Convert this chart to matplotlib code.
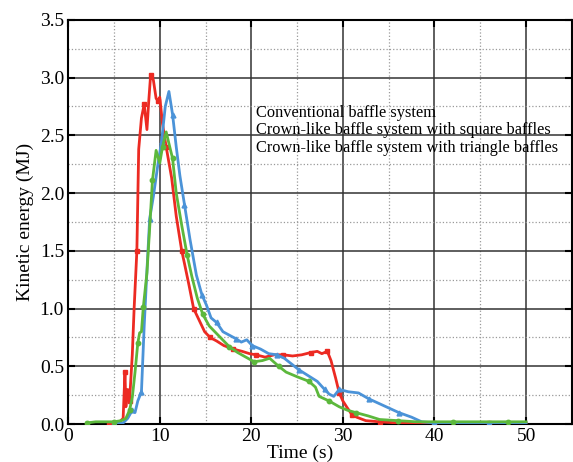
import matplotlib
matplotlib.use('Agg')
import matplotlib.pyplot as plt
from matplotlib.lines import Line2D
from matplotlib.ticker import MultipleLocator

plt.rcParams['font.family'] = ['Liberation Serif', 'DejaVu Serif']

labels = ['Conventional baffle system',
          'Crown-like baffle system with square baffles',
          'Crown-like baffle system with triangle baffles']

# conventional baffles (red)
red_t = [4.5, 5.5, 6.0, 6.2, 6.3, 6.5, 6.7, 7.0, 7.2, 7.5, 7.7, 8.0, 8.3, 8.6, 8.8,
         9.0, 9.3, 9.6, 9.8, 10.0, 10.3, 10.7, 11.3, 11.8, 12.4, 12.7, 13.2, 13.7,
         14.3, 14.9, 15.5, 16.2, 17.0, 18.0, 19.0, 19.8, 20.5, 21.5, 22.5, 23.5,
         24.5, 25.5, 26.5, 27.2, 27.7, 28.3, 28.7, 29.2, 29.6, 30.0, 30.4, 31.0,
         31.5, 32.5, 34.0, 36.0, 38.0, 40.0, 42.0, 44.0, 46.0, 48.0, 50.0]
red_y = [0.0, 0.01, 0.05, 0.45, 0.15, 0.3, 0.2, 0.6, 1.0, 1.5, 2.38, 2.65, 2.77,
         2.55, 2.8, 3.02, 2.98, 2.82, 2.8, 2.83, 2.6, 2.4, 2.13, 1.8, 1.5, 1.39,
         1.2, 1.0, 0.9, 0.8, 0.75, 0.72, 0.68, 0.65, 0.63, 0.61, 0.6, 0.58, 0.6,
         0.6, 0.59, 0.6, 0.62, 0.63, 0.61, 0.63, 0.55, 0.4, 0.27, 0.2, 0.15, 0.08,
         0.06, 0.03, 0.02, 0.01, 0.01, 0.01, 0.01, 0.01, 0.01, 0.01, 0.01]

# square baffles (blue)
blue_t = [5.0, 6.0, 6.5, 7.0, 7.3, 7.6, 8.0, 8.3, 8.6, 8.9, 9.3, 9.8, 10.2, 10.6,
          11.0, 11.4, 11.8, 12.2, 12.7, 13.3, 14.0, 14.6, 15.1, 15.6, 16.2, 16.9,
          17.6, 18.3, 18.9, 19.5, 20.1, 21.0, 21.9, 22.8, 23.6, 24.4, 25.2, 26.2,
          27.2, 28.0, 28.5, 29.0, 29.6, 30.6, 31.7, 32.8, 33.9, 35.0, 36.1, 37.5,
          38.6, 40.0, 42.0, 44.0, 46.0, 48.0, 50.0]
blue_y = [0.01, 0.01, 0.05, 0.12, 0.1, 0.2, 0.28, 0.85, 1.33, 1.78, 1.97, 2.25,
          2.45, 2.75, 2.88, 2.68, 2.4, 2.15, 1.9, 1.6, 1.29, 1.12, 1.03, 0.92,
          0.88, 0.8, 0.77, 0.74, 0.71, 0.73, 0.68, 0.65, 0.61, 0.6, 0.57, 0.52,
          0.47, 0.42, 0.37, 0.3, 0.26, 0.24, 0.3, 0.28, 0.27, 0.22, 0.18, 0.14,
          0.1, 0.06, 0.02, 0.01, 0.01, 0.01, 0.01, 0.01, 0.01]

# triangle baffles (green)
green_t = [2.0, 3.0, 4.0, 5.0, 5.8, 6.3, 6.7, 7.0, 7.3, 7.6, 7.8, 8.0, 8.2, 8.6,
           8.9, 9.2, 9.6, 10.0, 10.3, 10.7, 11.0, 11.4, 11.8, 12.4, 13.0, 13.5,
           14.1, 14.7, 15.4, 16.5, 17.6, 18.5, 19.4, 20.3, 21.2, 22.0, 23.0, 23.8,
           25.0, 26.3, 27.0, 27.4, 28.5, 29.6, 30.5, 31.4, 32.8, 34.0, 36.0, 38.0,
           40.0, 42.0, 44.0, 46.0, 48.0, 50.0]
green_y = [0.01, 0.02, 0.02, 0.02, 0.03, 0.05, 0.12, 0.23, 0.45, 0.7, 0.79, 0.8,
           1.01, 1.31, 1.7, 2.11, 2.37, 2.26, 2.4, 2.53, 2.43, 2.3, 2.0, 1.72,
           1.46, 1.28, 1.09, 0.95, 0.85, 0.76, 0.67, 0.62, 0.58, 0.54, 0.55, 0.57,
           0.5, 0.45, 0.41, 0.37, 0.32, 0.24, 0.2, 0.15, 0.12, 0.1, 0.07, 0.04,
           0.03, 0.02, 0.02, 0.02, 0.02, 0.02, 0.02, 0.02]

fig = plt.figure(figsize=(5.73, 4.62), dpi=100)
ax = fig.add_axes([0.119, 0.082, 0.879, 0.875])

ax.plot(red_t, red_y, color='#ec2a22', lw=2, marker='s', ms=3, markevery=3, zorder=3)
ax.plot(blue_t, blue_y, color='#4b93d8', lw=2, marker='^', ms=3.5, markevery=3, zorder=3)
ax.plot(green_t, green_y, color='#5cb83c', lw=2, marker='o', ms=3.2, markevery=3, zorder=4)

ax.set_xlim(0, 55)
ax.set_ylim(0, 3.5)
ax.xaxis.set_major_locator(MultipleLocator(10))
ax.xaxis.set_minor_locator(MultipleLocator(5))
ax.yaxis.set_major_locator(MultipleLocator(0.5))
ax.yaxis.set_minor_locator(MultipleLocator(0.25))
ax.yaxis.set_major_formatter(plt.FormatStrFormatter('%.1f'))

ax.grid(which='major', color='#333333', lw=1.1, ls='-')
ax.grid(which='minor', color='#999999', lw=0.9, ls=':')
ax.set_axisbelow(True)

ax.tick_params(which='major', direction='in', length=5, width=1.5,
               top=True, right=True, labelsize=14, pad=3)
ax.tick_params(which='minor', direction='in', length=0)
for s in ax.spines.values():
    s.set_linewidth(1.5)

ax.set_xlabel('Time (s)', fontsize=14)
ax.set_ylabel('Kinetic energy (MJ)', fontsize=14, labelpad=4)
ax.xaxis.set_label_coords(0.46, -0.05)

handles = [Line2D([], [], linestyle='none') for _ in labels]
ax.legend(handles, labels, loc='upper left', bbox_to_anchor=(0.372, 0.79),
          frameon=False, handlelength=0, handletextpad=0, borderpad=0,
          borderaxespad=0, labelspacing=0.1, fontsize=11.8)

fig.savefig('out.png', dpi=100)
